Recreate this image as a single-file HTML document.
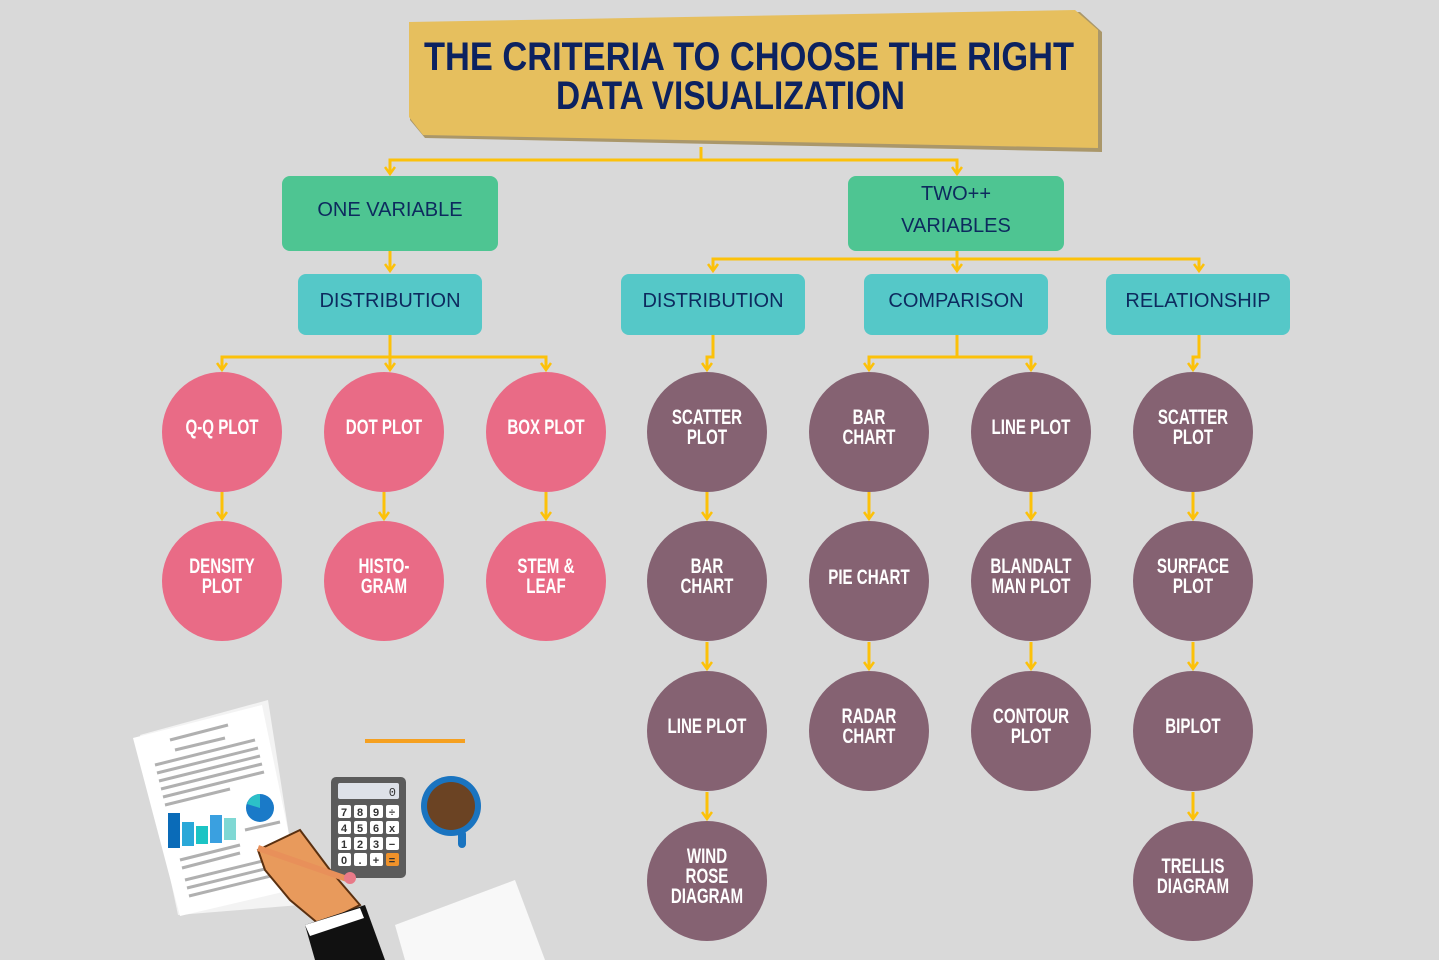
<!DOCTYPE html>
<html><head><meta charset="utf-8"><style>
html,body{margin:0;padding:0;background:#d9d9d9;}
svg{display:block}
.t{font-family:"Liberation Sans",sans-serif;font-weight:bold;fill:#fff;font-size:21px;text-anchor:middle}
.b{font-family:"Liberation Sans",sans-serif;fill:#0d2a5e;font-size:20px;text-anchor:middle}
</style></head><body>
<svg width="1439" height="960" viewBox="0 0 1439 960" xmlns="http://www.w3.org/2000/svg">
<defs>
<marker id="a" markerWidth="12" markerHeight="12" refX="10" refY="6" orient="auto" markerUnits="userSpaceOnUse">
<path d="M3,1 L10,6 L3,11" fill="none" stroke="#fcc10a" stroke-width="2.5"/></marker>
</defs>
<rect width="1439" height="960" fill="#d9d9d9"/>
<!-- Title banner -->
<polygon points="412,26 1080,12 1102,32 1102,152 425,138 410,120" fill="#8a6a20" opacity="0.6"/>
<polygon points="409,22 1075,10 1098,30 1098,148 423,135 409,117" fill="#e6bf5e"/>
<text x="424" y="70" textLength="650" lengthAdjust="spacingAndGlyphs" style="font-family:'Liberation Sans',sans-serif;font-weight:bold;font-size:40px;fill:#0c2260">THE CRITERIA TO CHOOSE THE RIGHT</text>
<text x="556" y="109" textLength="349" lengthAdjust="spacingAndGlyphs" style="font-family:'Liberation Sans',sans-serif;font-weight:bold;font-size:40px;fill:#0c2260">DATA VISUALIZATION</text>
<!-- connectors -->
<g stroke="#fcc10a" stroke-width="3" fill="none">
<path d="M701,147 V160 H390 V174" marker-end="url(#a)"/>
<path d="M701,160 H957 V174" marker-end="url(#a)"/>
<path d="M390,251 V271" marker-end="url(#a)"/>
<path d="M957,251 V259 H713 V271" marker-end="url(#a)"/>
<path d="M957,259 V271" marker-end="url(#a)"/>
<path d="M957,259 H1199 V271" marker-end="url(#a)"/>
<path d="M390,335 V357 H222 V370" marker-end="url(#a)"/>
<path d="M390,357 V370" marker-end="url(#a)"/>
<path d="M390,357 H546 V370" marker-end="url(#a)"/>
<path d="M713,335 V357 H707 V370" marker-end="url(#a)"/>
<path d="M957,335 V357 H869 V370" marker-end="url(#a)"/>
<path d="M957,357 H1031 V370" marker-end="url(#a)"/>
<path d="M1199,335 V357 H1193 V370" marker-end="url(#a)"/>
<path d="M222,492 V519" marker-end="url(#a)"/>
<path d="M384,492 V519" marker-end="url(#a)"/>
<path d="M546,492 V519" marker-end="url(#a)"/>
<path d="M707,492 V519" marker-end="url(#a)"/>
<path d="M869,492 V519" marker-end="url(#a)"/>
<path d="M1031,492 V519" marker-end="url(#a)"/>
<path d="M1193,492 V519" marker-end="url(#a)"/>
<path d="M707,642 V669" marker-end="url(#a)"/>
<path d="M869,642 V669" marker-end="url(#a)"/>
<path d="M1031,642 V669" marker-end="url(#a)"/>
<path d="M1193,642 V669" marker-end="url(#a)"/>
<path d="M707,792 V819" marker-end="url(#a)"/>
<path d="M1193,792 V819" marker-end="url(#a)"/>
</g>
<!-- boxes -->
<rect x="282" y="176" width="216" height="75" rx="8" fill="#4ec592"/>
<text class="b" x="390" y="216">ONE VARIABLE</text>
<rect x="848" y="176" width="216" height="75" rx="8" fill="#4ec592"/>
<text class="b" x="956" y="200">TWO++</text>
<text class="b" x="956" y="232">VARIABLES</text>
<g fill="#55c8c8">
<rect x="298" y="274" width="184" height="61" rx="8"/>
<rect x="621" y="274" width="184" height="61" rx="8"/>
<rect x="864" y="274" width="184" height="61" rx="8"/>
<rect x="1106" y="274" width="184" height="61" rx="8"/>
</g>
<text class="b" x="390" y="307">DISTRIBUTION</text>
<text class="b" x="713" y="307">DISTRIBUTION</text>
<text class="b" x="956" y="307">COMPARISON</text>
<text class="b" x="1198" y="307">RELATIONSHIP</text>
<!-- circles -->
<g fill="#e96b86">
<circle cx="222" cy="432" r="60"/><circle cx="384" cy="432" r="60"/><circle cx="546" cy="432" r="60"/>
<circle cx="222" cy="581" r="60"/><circle cx="384" cy="581" r="60"/><circle cx="546" cy="581" r="60"/>
</g>
<g fill="#856272">
<circle cx="707" cy="432" r="60"/><circle cx="869" cy="432" r="60"/><circle cx="1031" cy="432" r="60"/><circle cx="1193" cy="432" r="60"/>
<circle cx="707" cy="581" r="60"/><circle cx="869" cy="581" r="60"/><circle cx="1031" cy="581" r="60"/><circle cx="1193" cy="581" r="60"/>
<circle cx="707" cy="731" r="60"/><circle cx="869" cy="731" r="60"/><circle cx="1031" cy="731" r="60"/><circle cx="1193" cy="731" r="60"/>
<circle cx="707" cy="881" r="60"/><circle cx="1193" cy="881" r="60"/>
</g>
<g transform="scale(0.72,1)">
<text class="t" x="308.3" y="434">Q-Q PLOT</text>
<text class="t" x="533.3" y="434">DOT PLOT</text>
<text class="t" x="758.3" y="434">BOX PLOT</text>
<text class="t" x="308.3" y="573">DENSITY</text><text class="t" x="308.3" y="593">PLOT</text>
<text class="t" x="533.3" y="573">HISTO-</text><text class="t" x="533.3" y="593">GRAM</text>
<text class="t" x="758.3" y="573">STEM &amp;</text><text class="t" x="758.3" y="593">LEAF</text>
<text class="t" x="981.9" y="424">SCATTER</text><text class="t" x="981.9" y="444">PLOT</text>
<text class="t" x="1206.9" y="424">BAR</text><text class="t" x="1206.9" y="444">CHART</text>
<text class="t" x="1431.9" y="434">LINE PLOT</text>
<text class="t" x="1656.9" y="424">SCATTER</text><text class="t" x="1656.9" y="444">PLOT</text>
<text class="t" x="981.9" y="573">BAR</text><text class="t" x="981.9" y="593">CHART</text>
<text class="t" x="1206.9" y="584">PIE CHART</text>
<text class="t" x="1431.9" y="573">BLANDALT</text><text class="t" x="1431.9" y="593">MAN PLOT</text>
<text class="t" x="1656.9" y="573">SURFACE</text><text class="t" x="1656.9" y="593">PLOT</text>
<text class="t" x="981.9" y="733">LINE PLOT</text>
<text class="t" x="1206.9" y="723">RADAR</text><text class="t" x="1206.9" y="743">CHART</text>
<text class="t" x="1431.9" y="723">CONTOUR</text><text class="t" x="1431.9" y="743">PLOT</text>
<text class="t" x="1656.9" y="733">BIPLOT</text>
<text class="t" x="981.9" y="863">WIND</text><text class="t" x="981.9" y="883">ROSE</text><text class="t" x="981.9" y="903">DIAGRAM</text>
<text class="t" x="1656.9" y="873">TRELLIS</text><text class="t" x="1656.9" y="893">DIAGRAM</text>
</g>
<!-- illustration -->
<polygon points="140,735 268,700 300,905 178,915" fill="#f3f3f3"/>
<polygon points="133,738 262,705 300,888 180,916" fill="#fff"/>
<g stroke="#b0b0b0" stroke-width="3">
<line x1="170" y1="740" x2="228" y2="725"/><line x1="175" y1="750" x2="225" y2="738"/>
<line x1="155" y1="765" x2="255" y2="740"/><line x1="157" y1="773" x2="258" y2="748"/>
<line x1="159" y1="781" x2="260" y2="756"/><line x1="161" y1="789" x2="262" y2="764"/>
<line x1="163" y1="797" x2="264" y2="772"/><line x1="165" y1="805" x2="230" y2="789"/>
<line x1="180" y1="860" x2="240" y2="845"/><line x1="182" y1="868" x2="240" y2="853"/>
<line x1="185" y1="880" x2="275" y2="858"/><line x1="187" y1="888" x2="277" y2="866"/>
<line x1="189" y1="896" x2="279" y2="874"/><line x1="245" y1="830" x2="280" y2="822"/>
</g>
<rect x="168" y="813" width="12" height="35" fill="#0a6bb8"/>
<rect x="182" y="822" width="12" height="24" fill="#2aa8d8"/>
<rect x="196" y="826" width="12" height="18" fill="#1cc4c4"/>
<rect x="210" y="815" width="12" height="28" fill="#3aa0e0"/>
<rect x="224" y="818" width="12" height="22" fill="#7fd8d4"/>
<circle cx="260" cy="808" r="14" fill="#1a7ac8"/>
<path d="M260,808 L260,794 A14,14 0 0 0 247,804 Z" fill="#2cc0c8"/>
<line x1="365" y1="741" x2="465" y2="741" stroke="#f5a020" stroke-width="4"/>
<rect x="331" y="777" width="75" height="101" rx="5" fill="#5b5b5b"/>
<rect x="338" y="783" width="61" height="16" rx="2" fill="#dde1e8"/>
<text x="396" y="796" style="font-family:'Liberation Mono',monospace;font-size:12px;fill:#333;text-anchor:end">0</text>
<g font-family="Liberation Sans,sans-serif" font-size="11" font-weight="bold" text-anchor="middle" fill="#333">
<g fill="#fff">
<rect x="338" y="805" width="13" height="13" rx="2"/><rect x="354" y="805" width="13" height="13" rx="2"/><rect x="370" y="805" width="13" height="13" rx="2"/><rect x="386" y="805" width="13" height="13" rx="2"/>
<rect x="338" y="821" width="13" height="13" rx="2"/><rect x="354" y="821" width="13" height="13" rx="2"/><rect x="370" y="821" width="13" height="13" rx="2"/><rect x="386" y="821" width="13" height="13" rx="2"/>
<rect x="338" y="837" width="13" height="13" rx="2"/><rect x="354" y="837" width="13" height="13" rx="2"/><rect x="370" y="837" width="13" height="13" rx="2"/><rect x="386" y="837" width="13" height="13" rx="2"/>
<rect x="338" y="853" width="13" height="13" rx="2"/><rect x="354" y="853" width="13" height="13" rx="2"/><rect x="370" y="853" width="13" height="13" rx="2"/>
</g>
<rect x="386" y="853" width="13" height="13" rx="2" fill="#f0922a"/>
<text x="344" y="816">7</text><text x="360" y="816">8</text><text x="376" y="816">9</text><text x="392" y="816">÷</text>
<text x="344" y="832">4</text><text x="360" y="832">5</text><text x="376" y="832">6</text><text x="392" y="832">x</text>
<text x="344" y="848">1</text><text x="360" y="848">2</text><text x="376" y="848">3</text><text x="392" y="848">−</text>
<text x="344" y="864">0</text><text x="360" y="864">.</text><text x="376" y="864">+</text><text x="392" y="864">=</text>
</g>
<circle cx="451" cy="806" r="30" fill="#1a74c0"/>
<rect x="458" y="830" width="8" height="18" rx="4" fill="#1a74c0"/>
<circle cx="451" cy="806" r="24" fill="#6b4323"/>
<polygon points="258,850 300,830 330,870 360,905 320,925 290,900 265,870" fill="#e89a5c" stroke="#5a3010" stroke-width="2"/>
<line x1="258" y1="848" x2="350" y2="880" stroke="#e8905a" stroke-width="6"/>
<circle cx="350" cy="878" r="6" fill="#e87a88"/>
<polygon points="305,925 365,905 385,960 315,960" fill="#111"/>
<polygon points="305,925 360,908 364,918 310,936" fill="#fff"/>
<polygon points="395,925 515,880 545,960 405,960" fill="#f8f8f8"/>
</svg>
</body></html>
